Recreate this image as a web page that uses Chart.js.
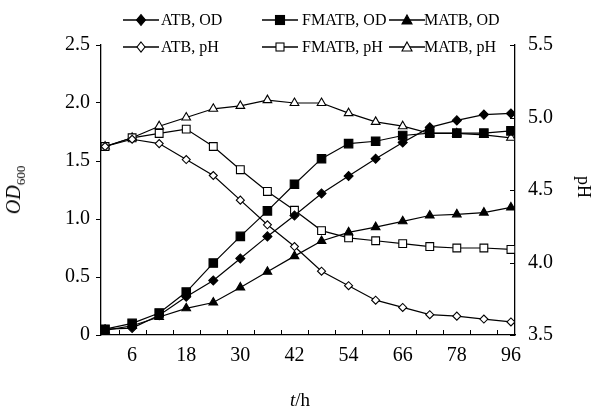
<!DOCTYPE html>
<html><head><meta charset="utf-8">
<script src="https://cdn.jsdelivr.net/npm/chart.js@4/dist/chart.umd.min.js"></script>
<style>
html,body{margin:0;padding:0;background:#fff;}
#wrap{position:relative;width:592px;height:410px;font-family:"Liberation Serif","Times New Roman",serif;color:#000;}
#c{position:absolute;left:0;top:0;}
.lg{position:absolute;font-size:16px;line-height:17px;white-space:nowrap;}
.ic{position:absolute;}
.ttl{position:absolute;white-space:nowrap;font-size:20px;line-height:20px;}
</style></head><body>
<div id="wrap">
<canvas id="c" width="592" height="410"></canvas>
<div id="legend"></div>
<div class="ttl" id="yt" style="left:17px;top:190px;transform:translate(-50%,-50%) rotate(-90deg);"><i>OD</i><sub style="font-size:13px;">600</sub></div>
<div class="ttl" id="y2t" style="left:584px;top:187px;font-size:18px;transform:translate(-50%,-50%) rotate(90deg);">pH</div>
<div class="ttl" id="xt" style="left:300px;top:400px;font-size:19px;transform:translate(-50%,-50%);"><i>t</i>/h</div>
</div>
<script>
// categories (sampling times, h) and shown tick labels
const times = ['0','6','12','18','24','30','36','42','48','54','60','66','72','78','84','96'];
const shownTickIdx = [1,3,5,7,9,11,13,15];
const odTicks = [0,0.5,1.0,1.5,2.0,2.5];
const phTicks = [3.5,4.0,4.5,5.0,5.5];

// series values
const atbOD   = [0.05,0.06,0.17,0.33,0.47,0.66,0.85,1.03,1.22,1.37,1.52,1.66,1.79,1.85,1.90,1.91];
const fmatbOD = [0.05,0.10,0.19,0.37,0.62,0.85,1.07,1.30,1.52,1.65,1.67,1.72,1.74,1.74,1.74,1.76];
const matbOD  = [0.04,0.08,0.155,0.23,0.28,0.41,0.545,0.68,0.81,0.885,0.93,0.98,1.03,1.04,1.055,1.10];
const atbPH   = [4.80,4.85,4.82,4.71,4.60,4.43,4.26,4.11,3.94,3.84,3.74,3.69,3.64,3.63,3.61,3.59];
const fmatbPH = [4.80,4.86,4.89,4.92,4.80,4.64,4.49,4.36,4.22,4.17,4.15,4.13,4.11,4.10,4.10,4.09];
const matbPH  = [4.80,4.86,4.94,5.00,5.06,5.08,5.12,5.10,5.10,5.03,4.97,4.94,4.89,4.89,4.88,4.86];

const pts = arr => arr.map((v,i)=>({x:i,y:v}));

const defs = [
  {label:'ATB, OD',   data:atbOD,   axis:'y',  style:'rectRot',  fill:true,  r:4.5, col:0, row:0},
  {label:'FMATB, OD', data:fmatbOD, axis:'y',  style:'rect',     fill:true,  r:6,   col:1, row:0},
  {label:'MATB, OD',  data:matbOD,  axis:'y',  style:'triangle', fill:true,  r:5,   col:2, row:0},
  {label:'ATB, pH',   data:atbPH,   axis:'y1', style:'rectRot',  fill:false, r:4,   col:0, row:1},
  {label:'FMATB, pH', data:fmatbPH, axis:'y1', style:'rect',     fill:false, r:5.5, col:1, row:1},
  {label:'MATB, pH',  data:matbPH,  axis:'y1', style:'triangle', fill:false, r:5,   col:2, row:1}
];

const datasets = defs.map(d=>({
  label:d.label, data:pts(d.data), yAxisID:d.axis,
  borderColor:'#000', borderWidth:1.2, backgroundColor:d.fill?'#000':'#fff',
  pointStyle:d.style, pointRadius:d.r, pointHoverRadius:d.r,
  pointBackgroundColor:d.fill?'#000':'#fff', pointBorderColor:'#000', pointBorderWidth:1.1,
  tension:0, fill:false
}));

// HTML legend
const colIcon=[123,262,389], colText=[161,302,424], rowY=[20,47];
function markerSVG(style, fill){
  const f = fill?'#000':'#fff';
  let m='';
  if(style==='rectRot') m=`<polygon points="18,${fill?1.5:2} ${fill?22.5:22},7 18,${fill?12.5:12} ${fill?13.5:14},7" fill="${f}" stroke="#000" stroke-width="1.1"/>`;
  else if(style==='rect') m=`<rect x="${fill?13.5:14}" y="${fill?2.5:3}" width="${fill?9:8}" height="${fill?9:8}" fill="${f}" stroke="#000" stroke-width="1.1"/>`;
  else m=`<polygon points="18,2 23,11 13,11" fill="${f}" stroke="#000" stroke-width="1.1"/>`;
  return `<svg width="36" height="14" viewBox="0 0 36 14"><line x1="0" y1="7" x2="36" y2="7" stroke="#000" stroke-width="1.3"/>${m}</svg>`;
}
const lg=document.getElementById('legend');
defs.forEach(d=>{
  const ic=document.createElement('div'); ic.className='ic';
  ic.style.left=colIcon[d.col]+'px'; ic.style.top=(rowY[d.row]-7)+'px';
  ic.innerHTML=markerSVG(d.style,d.fill); lg.appendChild(ic);
  const t=document.createElement('div'); t.className='lg';
  t.style.left=colText[d.col]+'px'; t.style.top=(rowY[d.row]-9)+'px';
  t.textContent=d.label; lg.appendChild(t);
});

const innerTicks = {
  id:'innerTicks',
  afterDraw(chart){
    const ctx=chart.ctx, a=chart.chartArea, xs=chart.scales.x, y1=chart.scales.y1;
    ctx.save(); ctx.strokeStyle='#000'; ctx.lineWidth=1; ctx.beginPath();
    for(let i=0;i<times.length-1;i++){
      const px=Math.round(xs.getPixelForValue(i+0.5))+0.5;
      ctx.moveTo(px,a.bottom); ctx.lineTo(px,a.bottom-5);
    }
    phTicks.forEach(v=>{
      const py=Math.round(y1.getPixelForValue(v))+0.5;
      ctx.moveTo(a.right,py); ctx.lineTo(a.right-5,py);
    });
    ctx.stroke(); ctx.restore();
  }
};

const font={family:'"Liberation Serif","Times New Roman",serif', size:20};
new Chart(document.getElementById('c'),{
  type:'line',
  data:{datasets},
  options:{
    responsive:false, animation:false, devicePixelRatio:1,
    layout:{padding:{top:45,left:0,right:0,bottom:0}},
    plugins:{legend:{display:false}, tooltip:{enabled:false}},
    scales:{
      x:{type:'linear', min:-0.15, max:15.15,
        afterBuildTicks:s=>{s.ticks=shownTickIdx.map(v=>({value:v}));},
        ticks:{callback:v=>times[v], color:'#000', font, padding:9, maxRotation:0, autoSkip:false},
        grid:{display:true, drawOnChartArea:false, drawTicks:false},
        border:{color:'#000', width:1.3},
        afterFit:s=>{s.height=75;}
      },
      y:{position:'left', min:0, max:2.5,
        afterBuildTicks:s=>{s.ticks=odTicks.map(v=>({value:v}));},
        ticks:{callback:v=>v===0?'0':v.toFixed(1), color:'#000', font, padding:6},
        grid:{display:true, drawOnChartArea:false, drawTicks:true, tickLength:5, color:'#000'},
        border:{color:'#000', width:1.3},
        afterFit:s=>{s.width=101;}
      },
      y1:{position:'right', min:3.5, max:5.5,
        afterBuildTicks:s=>{s.ticks=phTicks.map(v=>({value:v}));},
        ticks:{callback:v=>v.toFixed(1), color:'#000', font, padding:13},
        grid:{display:true, drawOnChartArea:false, drawTicks:false},
        border:{color:'#000', width:1.3},
        afterFit:s=>{s.width=77;}
      }
    }
  },
  plugins:[innerTicks]
});
</script>
</body></html>
